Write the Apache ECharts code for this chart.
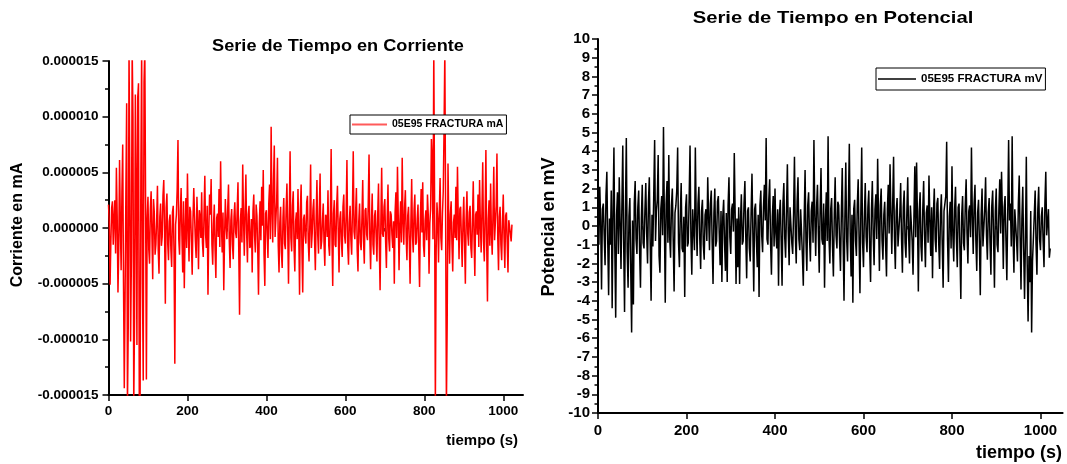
<!DOCTYPE html>
<html><head><meta charset="utf-8">
<script src="https://cdn.jsdelivr.net/npm/echarts@6/dist/echarts.min.js"></script>
<style>html,body{margin:0;padding:0;background:#fff}#c{width:1067px;height:464px}</style>
</head><body><div id="c"></div>
<script>
// sampling step of the read-off series (seconds)
const SAMPLE_STEP_S = 2;

// Current, in units of 1e-6 mA
const corrienteMicroA = [
 2.1, 0.4, -5.1, -1.2, 1.8, 2.4, -1.5, 0.9, 2.5, -2.3, 5.4, 1.1, -5.8, -2.0, 6.1, 0.5, -3.8, 3.2, 7.5, -4.9,
 -14.4, -6.1, 3.0, 11.2, -16, -9.0, 16, 4.5, -10.2, -2.8, 16, 9.9, -16, -8.1, 12.0, 3.7, -10.5, 11.7, 13.0, -15.5,
 -16, 4.9, 16, -5.0, -13.7, 13.1, 16, 2.2, -13.6, 0.9, 2.8, -1.9, -3.2, 1.7, 3.3, -0.6, -4.6, 2.6, 1.4, -2.4,
 -1.5, 0.7, 3.8, -2.0, -4.1, 1.0, 2.2, -1.6, -0.8, 2.9, 4.3, -0.3, -6.8, 1.8, 3.1, -1.4, -2.9, 0.6, 1.2, -1.9,
 -3.5, 1.4, 2.0, -2.2, -12.2, 0.3, 1.2, 3.5, 7.9, -1.0, -2.4, 1.5, 3.6, -0.7, -4.0, 2.4, -5.4, -0.5, 2.7, -1.8,
 4.9, 0.2, -3.0, 1.9, 1.5, -1.2, -4.2, 0.8, 3.6, 1.1, -1.1, -2.7, 2.8, 0.4, -3.7, 1.6, 1.0, -0.9, 3.2, -1.3,
 -2.6, 1.3, 4.7, -0.6, -1.8, 2.0, -6.0, -0.4, 3.0, 1.2, 4.4, -1.5, -3.3, 0.3, 2.1, -2.0, -4.5, 0.9, 1.3, -0.8,
 3.5, -1.7, 6.0, 0.5, -2.2, 1.4, -5.6, -0.9, 2.6, 0.2, -1.0, 1.8, 3.9, -1.2, -3.6, 0.7, 1.7, -1.5, -2.8, 1.0,
 2.3, -0.4, -0.9, 1.6, 4.1, -2.1, -7.8, 0.6, 1.8, -1.3, 5.7, 0.9, -2.5, 1.4, 4.8, -0.5, -3.1, 1.2, 2.0, -1.8,
 -1.6, 0.8, -4.0, 1.5, 3.0, -0.7, -2.2, 2.1, 1.1, -1.9, -6.0, 0.4, 2.4, -1.1, 3.7, 0.2, 5.2, -2.4, -5.2, 1.3,
 1.6, -0.6, -2.7, 2.2, 3.9, -1.0, 9.1, 1.7, -1.3, 4.2, 7.4, -0.8, 0.8, 2.4, 6.3, -1.6, -4.0, 0.5, 1.9, -2.2,
 -3.6, 0.9, 2.7, -1.4, -1.9, 1.8, 4.0, -0.3, -5.0, 1.1, 6.9, -0.9, -2.1, 2.0, 3.3, -1.7, -3.9, 0.6, 1.4, -1.0,
 3.5, -0.5, -6.0, 1.6, 3.9, -2.0, -5.8, 0.8, 1.2, -0.7, -1.4, 2.3, 2.9, -1.2, -3.0, 0.4, 5.7, -1.8, -0.5, 1.7,
 2.6, -1.1, -3.8, 0.9, 4.3, -0.6, -2.3, 1.5, 4.9, -1.9, -1.2, 0.7, 2.2, -1.4, -3.4, 1.2, 1.0, -0.8, 3.4, -1.6,
 -2.5, 1.0, 7.1, -0.9, -5.2, 1.3, 2.5, -1.5, -1.7, 2.0, 3.8, -0.4, -4.0, 0.8, 1.5, -1.2, -2.6, 1.9, 3.0, -0.7,
 -1.4, 1.2, 6.1, -1.6, -3.3, 0.5, 2.0, -1.0, -2.4, 1.7, 6.9, -0.3, -1.0, 1.4, 3.6, -2.0, -3.9, 0.6, 2.2, -1.3,
 -2.0, 0.9, 4.3, -1.1, -3.2, 1.6, 1.8, -0.6, -1.1, 2.3, 6.6, -0.9, -3.7, 0.4, 3.1, -1.5, -2.4, 1.1, 1.6, -0.8,
 -3.0, 1.3, 4.0, -1.7, -5.6, 0.7, 5.4, -0.5, -0.8, 1.9, 2.6, -1.2, -3.6, 0.9, 3.9, -1.0, -2.1, 1.5, 1.2, -0.6,
 -1.8, 0.6, -5.0, 1.4, 3.2, -0.9, 5.5, 1.0, -3.8, 0.3, 2.4, -1.3, 6.3, 0.7, -1.5, 1.8, 3.4, -0.8, -2.9, 1.1,
 1.9, -1.2, -5.0, 0.5, 4.4, -0.7, -2.2, 1.6, 3.0, -1.5, -1.3, 0.8, 2.1, -2.0, -5.3, 0.9, 3.5, -0.4, 4.1, -1.6,
 -2.6, 0.7, 1.6, -1.1, 3.0, 1.2, -4.1, 0.4, 1.7, 8.0, 6.2, -1.0, 16, 2.5, -16, -2.2, 2.3, 0.8, -3.1, 1.5,
 4.5, -0.9, -2.0, 1.3, 3.3, 8.9, 16, 1.0, -16, -8.4, 5.8, 0.6, -3.2, 1.2, 2.4, -1.4, -3.9, 0.5, 1.2, -0.9,
 3.7, -1.1, 5.5, 0.9, -2.8, 1.7, 1.9, -1.0, -3.5, 0.6, 2.8, -1.3, -5.0, 0.8, 3.3, -0.5, -1.6, 1.4, 2.0, -1.8,
 -2.7, 0.7, 4.2, -0.9, -4.3, 1.2, 1.5, -0.6, 3.0, -1.7, 4.3, 0.5, -2.2, 1.6, 5.9, -1.2, -3.0, 0.9, 7.0, -1.4,
 -6.6, 0.8, 2.5, -1.6, 4.0, -0.4, -2.4, 1.3, 5.5, -1.1, -1.1, 2.0, 6.7, -0.8, -3.8, 1.0, 1.9, -1.5, -2.9, 0.6,
 3.0, -0.9, -3.6, 1.1, 1.4, -1.3, -4.0, 0.7, 0.8, -0.5, -1.2, 0.3
];

// Potential, mV
const potencialMV = [
 0.5, -1.0, 2.1, 0.3, -3.4, 0.9, 1.2, -0.5, -2.1, 1.6, 2.9, -0.8, -3.7, 0.4, -1.0, 1.9, -4.4, 0.7, 4.2, -1.2,
 -4.9, 0.6, 1.8, -1.5, 2.6, 0.2, -2.3, 1.1, 4.3, -0.9, -4.6, 0.8, 4.7, -1.4, -3.3, 0.5, 1.5, -2.4, -5.7, 0.3,
 -4.2, 1.2, 2.4, -0.7, -1.5, 1.0, 1.9, -1.3, -3.3, 0.4, 2.2, -0.9, -1.2, 0.8, 2.3, -0.4, -2.0, 1.3, 2.6, -1.0,
 -4.0, 0.6, -1.1, 1.7, 4.6, -0.8, 0.8, 1.4, 3.8, -1.6, -2.5, 0.9, 1.6, -0.5, 5.3, 0.4, -4.1, 1.2, 2.4, -0.9,
 3.8, -0.6, -1.7, 1.1, 2.0, -0.8, -3.5, 0.7, 1.1, 1.9, 4.2, -0.9, -2.2, 0.6, 2.3, -1.2, -1.4, 0.5, -3.8, 1.0,
 1.7, -1.1, -0.9, 1.5, 4.3, -0.6, -2.6, 0.9, 1.0, -1.3, 4.2, 0.3, -1.6, 1.2, 2.1, -0.7, -2.3, 0.8, 1.4, -1.0,
 -1.8, 0.6, 0.9, -0.8, 2.6, 0.5, -1.3, 1.2, 1.9, -0.9, -3.1, 0.7, 2.0, -1.1, -0.8, 1.3, 1.6, -0.4, -2.1, 0.8,
 -3.0, 0.5, 1.4, -0.9, -2.4, 0.7, -3.0, 1.1, 2.6, -0.6, -1.5, 0.9, 1.2, -0.3, 3.9, 0.6, -3.1, 0.4, -2.2, 1.0,
 -3.1, 0.3, 1.7, -1.0, -0.8, 1.2, 2.4, -0.6, -2.8, 0.8, 1.0, -1.2, -1.9, 0.7, 2.8, -0.4, -3.5, 0.9, 1.2, -0.8,
 -2.2, 0.6, -3.8, 1.1, 1.9, -0.5, -1.4, 1.0, 2.2, 0.3, 4.7, -0.7, -1.0, 1.4, 2.5, -0.9, -2.6, 0.5, 1.6, -1.1,
 2.0, -0.4, -1.2, 0.9, -3.2, 0.6, 1.4, -0.8, -3.2, 1.2, 2.3, -0.6, -1.7, 0.8, 3.3, -0.3, -2.1, 1.0, 1.1, -0.9,
 -1.5, 0.7, 3.7, -0.5, -2.0, 1.3, 2.6, -0.7, -1.3, 0.9, 0.9, -1.6, -3.2, 0.4, 3.0, -0.8, -2.4, 1.1, 1.8, -0.6,
 -1.9, 0.8, 1.3, -0.9, 4.6, 0.5, -1.6, 1.0, 2.2, -0.4, -2.5, 0.9, 3.1, -0.7, -1.0, 1.2, -3.3, 0.3, 1.8, -0.8,
 4.8, -0.6, -2.0, 0.9, 1.5, -1.1, -2.7, 0.6, 2.6, -0.5, -1.2, 1.3, 1.1, -0.9, -2.4, 0.7, 3.1, -0.8, -4.0, 0.5,
 3.4, -0.7, -1.9, 1.2, 4.4, -0.4, -2.7, 0.6, -4.1, 0.9, 1.4, -0.8, -1.6, 1.1, 2.5, -0.6, -3.6, 0.7, 4.2, -0.9,
 -2.2, 0.5, 2.3, -0.6, -1.4, 1.0, 1.9, -1.2, -3.0, 0.8, 2.4, -0.5, -2.1, 0.9, 1.7, -0.7, 3.6, 0.4, -2.4, 1.1,
 2.0, -0.8, -1.8, 0.6, 1.3, -1.0, -2.7, 0.9, 2.2, -0.4, 3.3, 0.7, -1.5, 1.2, 3.7, -0.6, -2.3, 0.8, 1.5, -1.1,
 -1.1, 0.6, 2.3, -0.7, -2.5, 1.0, 1.9, -0.9, -1.7, 0.7, 2.6, -0.5, -2.0, 1.1, 1.2, -0.8, -2.6, 0.5, 3.2, -0.6,
 3.4, 0.4, -3.5, 0.8, 1.8, -1.1, -1.9, 0.9, 2.4, -0.5, -2.2, 0.7, 1.1, -0.9, 2.7, 0.3, -1.6, 1.0, -2.8, 0.6,
 2.0, -0.7, -1.4, 1.2, 1.5, -0.9, -2.3, 0.6, 1.7, -1.0, -3.3, 0.8, 0.9, 1.6, 4.5, -0.8, -3.0, 0.5, 1.3, -1.2,
 3.2, -0.5, -1.9, 0.9, 2.1, -0.7, -2.2, 1.0, 1.2, -1.3, -3.9, 0.6, 1.6, -0.9, -1.3, 1.1, 2.5, -0.4, -2.0, 0.8,
 1.1, -0.6, 4.2, 0.5, -1.5, 1.2, 2.2, -0.8, -2.4, 0.7, 1.4, -0.9, -3.7, 0.6, 2.0, -1.1, -1.2, 0.9, 2.6, -0.5,
 -1.8, 0.7, 1.5, -0.9, -2.6, 1.1, 1.9, -0.6, -3.3, 0.8, 2.0, -1.0, -1.4, 0.9, 2.5, -0.4, 2.9, 0.6, -2.3, 1.0,
 1.6, -0.8, -2.9, 0.7, 4.6, 0.3, 1.2, -1.1, 4.8, -0.5, -2.5, 0.9, 1.0, -0.8, -1.9, 1.2, 2.7, -0.6, -3.4, 0.4,
 2.1, -1.2, -3.9, -0.8, 3.7, -2.0, -5.1, -1.6, -3.0, 0.8, -5.7, -1.9, -2.0, 0.6, 1.9, -1.0, -2.6, 0.9, 2.1, -0.7,
 -1.3, 0.5, 1.0, -0.8, -2.2, 1.2, 2.9, -0.5, -0.4, 0.9, -1.7, -1.2
];

const xMajorTicks = [0, 200, 400, 600, 800, 1000];
const xMinorTicks = [100, 300, 500, 700, 900];
const X_MAX = 1050;

const seriesNameI = '05E95 FRACTURA mA';
const seriesNameV = '05E95 FRACTURA mV';
const FONT = "'Liberation Sans', Arial, sans-serif";

const pairs = (arr) => arr.map((v, i) => [i * SAMPLE_STEP_S, v]);

function xAxes(grid, fs, margin) {
  return [{
    type: 'value', gridIndex: grid, position: 'bottom', min: 0, max: X_MAX,
    axisLine: { onZero: false, lineStyle: { color: '#000', width: 2 } },
    axisTick: { show: true, customValues: xMajorTicks, length: 6, lineStyle: { color: '#000', width: 1.5 } },
    axisLabel: { customValues: xMajorTicks, color: '#000', fontWeight: 'bold', fontSize: fs, fontFamily: FONT, margin: margin,
      formatter: (v) => String(v) },
    splitLine: { show: false }
  }, {
    type: 'value', gridIndex: grid, position: 'bottom', min: 0, max: X_MAX,
    axisLine: { show: false },
    axisTick: { show: true, customValues: xMinorTicks, length: 3.5, lineStyle: { color: '#000', width: 1.5 } },
    axisLabel: { show: false },
    splitLine: { show: false }
  }];
}

const chart = echarts.init(document.getElementById('c'), null, { renderer: 'canvas' });
chart.setOption({
  animation: false,
  backgroundColor: '#fff',
  grid: [
    { left: 108.5, top: 61, width: 414.5, height: 334 },
    { left: 598, top: 39, width: 464.6, height: 374 }
  ],
  xAxis: [...xAxes(0, 13.5, 9), ...xAxes(1, 15, 10)],
  yAxis: [{
    type: 'value', gridIndex: 0, min: -15, max: 15, interval: 5,
    axisLine: { show: true, lineStyle: { color: '#000', width: 2 } },
    axisTick: { show: true, length: 6, lineStyle: { color: '#000', width: 1.5 } },
    minorTick: { show: true, splitNumber: 2, length: 3.5, lineStyle: { color: '#000', width: 1.5 } },
    axisLabel: { color: '#000', fontWeight: 'bold', fontSize: 13.5, fontFamily: FONT, margin: 10,
      formatter: (v) => (v / 1e6).toFixed(6) },
    splitLine: { show: false }
  }, {
    type: 'value', gridIndex: 1, min: -10, max: 10, interval: 1,
    axisLine: { show: true, lineStyle: { color: '#000', width: 2 } },
    axisTick: { show: true, length: 6, lineStyle: { color: '#000', width: 1.5 } },
    minorTick: { show: true, splitNumber: 2, length: 3.5, lineStyle: { color: '#000', width: 1.5 } },
    axisLabel: { color: '#000', fontWeight: 'bold', fontSize: 15, fontFamily: FONT, margin: 8 },
    splitLine: { show: false }
  }],
  legend: [{
    data: [{ name: seriesNameI, itemStyle: { color: '#ff5a5a' } }],
    left: 350, top: 115, orient: 'horizontal',
    icon: 'rect', itemWidth: 35, itemHeight: 2, itemGap: 4,
    padding: [4, 3, 4, 2], borderColor: '#000', borderWidth: 1, backgroundColor: '#fff',
    textStyle: { color: '#000', fontWeight: 'bold', fontSize: 10.5, fontFamily: FONT },
    selectedMode: false
  }, {
    data: [{ name: seriesNameV, itemStyle: { color: '#000' } }],
    left: 876, top: 68, orient: 'horizontal',
    icon: 'rect', itemWidth: 38, itemHeight: 1.5, itemGap: 4,
    padding: [5, 3, 5, 2], borderColor: '#000', borderWidth: 1, backgroundColor: '#fff',
    textStyle: { color: '#000', fontWeight: 'bold', fontSize: 11.5, fontFamily: FONT },
    selectedMode: false
  }],
  graphic: [
    { type: 'text', x: 338, y: 46, scaleX: 1.1, style: { text: 'Serie de Tiempo en Corriente', fill: '#000', font: `bold 16.5px ${FONT}`, textAlign: 'center', textVerticalAlign: 'middle' } },
    { type: 'text', x: 833, y: 18, scaleX: 1.19, style: { text: 'Serie de Tiempo en Potencial', fill: '#000', font: `bold 17px ${FONT}`, textAlign: 'center', textVerticalAlign: 'middle' } },
    { type: 'text', x: 18, y: 225, rotation: Math.PI / 2, style: { text: 'Corriente en mA', fill: '#000', font: `bold 16px ${FONT}`, textAlign: 'center', textVerticalAlign: 'middle' } },
    { type: 'text', x: 549, y: 227, rotation: Math.PI / 2, style: { text: 'Potencial en mV', fill: '#000', font: `bold 18px ${FONT}`, textAlign: 'center', textVerticalAlign: 'middle' } },
    { type: 'text', x: 518, y: 441, style: { text: 'tiempo (s)', fill: '#000', font: `bold 15px ${FONT}`, textAlign: 'right', textVerticalAlign: 'middle' } },
    { type: 'text', x: 1062, y: 453, style: { text: 'tiempo (s)', fill: '#000', font: `bold 18px ${FONT}`, textAlign: 'right', textVerticalAlign: 'middle' } }
  ],
  series: [{
    name: seriesNameI, type: 'line', xAxisIndex: 0, yAxisIndex: 0,
    data: pairs(corrienteMicroA), showSymbol: false, symbol: 'none',
    lineStyle: { color: '#ff0000', width: 1.5 }, itemStyle: { color: '#ff0000' }, clip: true
  }, {
    name: seriesNameV, type: 'line', xAxisIndex: 2, yAxisIndex: 1,
    data: pairs(potencialMV), showSymbol: false, symbol: 'none',
    lineStyle: { color: '#000', width: 1.5 }, itemStyle: { color: '#000' }, clip: true
  }]
});
</script></body></html>
